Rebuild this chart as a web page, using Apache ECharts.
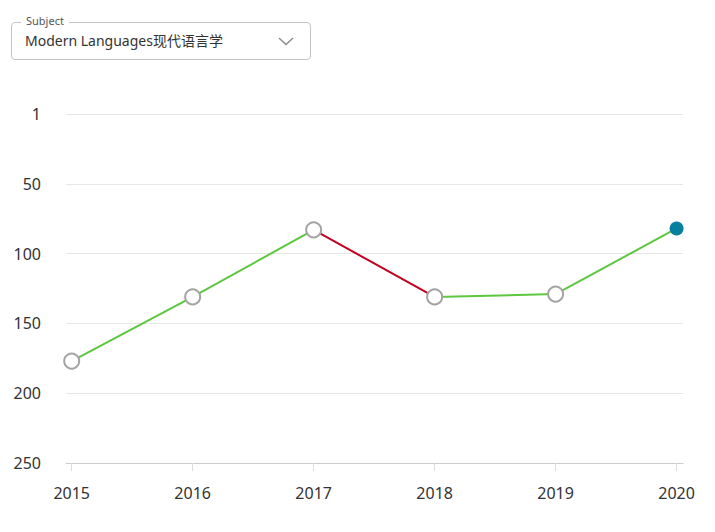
<!DOCTYPE html>
<html>
<head>
<meta charset="utf-8">
<script src="https://cdn.jsdelivr.net/npm/echarts@6/dist/echarts.min.js"></script>
<style>
  html, body { margin: 0; padding: 0; background: #fff; }
  #chart { position: absolute; left: 0; top: 0; width: 715px; height: 532px; }
  .select {
    position: absolute; left: 11px; top: 22px; width: 298px; height: 36px;
    border: 1px solid #c4c4c4; border-radius: 4px; box-sizing: content-box;
    font-family: "Noto Sans", "Noto Sans CJK SC", sans-serif;
  }
  .select .legend {
    position: absolute; left: 9px; top: -9px; padding: 0 5px; background: #fff;
    font-size: 11px; color: #555; line-height: 14px;
  }
  .select .value {
    position: absolute; left: 13px; top: 8px; font-size: 14px; color: #333; line-height: 20px;
    font-family: "Noto Sans", "Noto Sans CJK SC", sans-serif;
  }
  .select svg { position: absolute; left: 266px; top: 13px; }
</style>
</head>
<body>
<div id="chart"></div>
<div class="select">
  <span class="legend">Subject</span>
  <span class="value">Modern Languages现代语言学</span>
  <svg width="16" height="10" viewBox="0 0 16 10"><polyline points="1,2 8,8.5 15,2" fill="none" stroke="#888" stroke-width="1.3"/></svg>
</div>
<script>
const years = [2015, 2016, 2017, 2018, 2019, 2020];
const ranks = [177, 131, 83, 131, 129, 82];
const yTickValues = [0, 50, 100, 150, 200, 250];
const yTickLabels = ['1', '50', '100', '150', '200', '250'];

const GREEN = '#5cc73f';
const RED = '#c20020';

const segSeries = [];
for (let i = 0; i < years.length - 1; i++) {
  const better = ranks[i + 1] <= ranks[i];
  segSeries.push({
    type: 'line',
    data: [[years[i], ranks[i]], [years[i + 1], ranks[i + 1]]],
    symbol: 'none',
    lineStyle: { color: better ? GREEN : RED, width: 2 },
    silent: true,
    z: 2
  });
}

const pointData = years.map((y, i) => {
  const last = i === years.length - 1;
  return {
    value: [y, ranks[i]],
    symbolSize: last ? 14 : 15,
    itemStyle: last
      ? { color: '#07809f', borderColor: '#07809f', borderWidth: 0, opacity: 1 }
      : { color: '#fff', borderColor: '#a3a3a3', borderWidth: 2, opacity: 1 }
  };
});

const chart = echarts.init(document.getElementById('chart'), null, { renderer: 'svg' });
chart.setOption({
  animation: false,
  grid: { left: 66, right: 32, top: 114, bottom: 69, containLabel: false },
  xAxis: {
    type: 'value',
    position: 'bottom',
    min: 2014.953,
    max: 2020.053,
    axisLine: { show: true, onZero: false, lineStyle: { color: '#cccccc', width: 1 } },
    axisTick: { show: true, length: 8, lineStyle: { color: '#dddddd' }, customValues: years },
    axisLabel: {
      customValues: years,
      margin: 22,
      fontSize: 16,
      color: '#333',
      fontFamily: 'Noto Sans',
      formatter: v => String(Math.round(v))
    },
    splitLine: { show: false }
  },
  yAxis: {
    type: 'value',
    inverse: true,
    min: 0,
    max: 250,
    interval: 50,
    axisLine: { show: false },
    axisTick: { show: false },
    axisLabel: {
      margin: 25,
      fontSize: 16,
      color: '#333',
      fontFamily: 'Noto Sans',
      formatter: v => yTickLabels[yTickValues.indexOf(v)]
    },
    splitLine: { lineStyle: { color: '#e6e6e6' } }
  },
  series: segSeries.concat([{
    type: 'scatter',
    data: pointData,
    symbol: 'circle',
    itemStyle: { opacity: 1 },
    z: 5
  }])
});
</script>
</body>
</html>
